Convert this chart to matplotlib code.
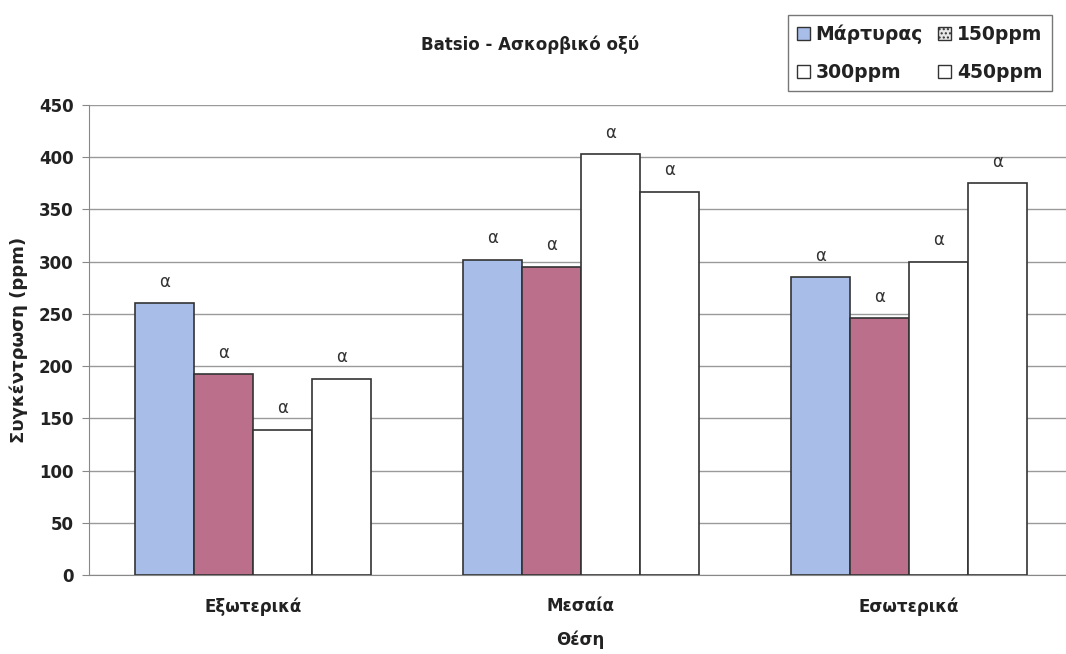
import matplotlib
matplotlib.use("Agg")
import matplotlib.pyplot as plt
import numpy as np
from matplotlib.patches import Patch

plt.rcParams['font.family'] = ['DejaVu Sans']
plt.rcParams['font.weight'] = 'bold'

categories = ['Εξωτερικά', 'Μεσαία', 'Εσωτερικά']
series_names = ['Μάρτυρας', '150ppm', '300ppm', '450ppm']
control = [260, 302, 285]
ppm150 = [192, 295, 246]
ppm300 = [139, 403, 300]
ppm450 = [188, 367, 375]
letters = [['α', 'α', 'α'], ['α', 'α', 'α'], ['α', 'α', 'α'], ['α', 'α', 'α']]
yticks = [0, 50, 100, 150, 200, 250, 300, 350, 400, 450]

series = [control, ppm150, ppm300, ppm450]
colors = ['#a9bde9', '#bb6f8a', '#ffffff', '#ffffff']
text_col = '#222222'

fig = plt.figure(figsize=(10.66, 6.54), dpi=100)
ax = fig.add_axes([89 / 1066, 1 - 575 / 654, 1 - 89 / 1066, (575 - 105) / 654])

x = np.arange(len(categories))
w = 0.18
for i, (vals, col) in enumerate(zip(series, colors)):
    pos = x + (i - 1.5) * w
    ax.bar(pos, vals, width=w, color=col, edgecolor='#333333', linewidth=1.2, zorder=3)
    for p, v, t in zip(pos, vals, letters[i]):
        ax.text(p, v + 12, t, ha='center', va='bottom', fontsize=12,
                fontweight='normal', color='#333333', zorder=4)

ax.set_xlim(-0.5, 2.479)
ax.set_ylim(0, 450)
ax.set_yticks(yticks)
ax.set_yticklabels([str(t) for t in yticks], fontsize=12, fontweight='bold', color=text_col)
ax.yaxis.grid(True, color='#9a9a9a', linewidth=1.0, zorder=0)
ax.set_xticks(x)
ax.set_xticklabels(categories, fontsize=12, fontweight='bold', color=text_col)
ax.tick_params(axis='x', length=0, pad=16)
ax.tick_params(axis='y', length=5, color='#888888', pad=6)
for s in ['top', 'right']:
    ax.spines[s].set_visible(False)
ax.spines['left'].set_color('#888888')
ax.spines['bottom'].set_color('#888888')

ax.set_ylabel('Συγκέντρωση (ppm)', fontsize=13, fontweight='bold', color=text_col, labelpad=8)
fig.text(580 / 1066, 1 - 640 / 654, 'Θέση', ha='center', va='center',
         fontsize=12, fontweight='bold', color=text_col)

fig.text(530 / 1066, 1 - 45 / 654, 'Batsio - Ασκορβικό οξύ', ha='center', va='center',
         fontsize=12, fontweight='bold', color=text_col)

handles = [Patch(facecolor=c, edgecolor='#333333', linewidth=1.0) for c in colors]
handles[1] = Patch(facecolor='#e8e8e8', edgecolor='#333333', hatch='....', linewidth=1.0)
# fill the two-column legend row by row
order = [0, 2, 1, 3]
leg = fig.legend([handles[k] for k in order], [series_names[k] for k in order],
                 ncol=2, loc='upper right',
                 bbox_to_anchor=(1061 / 1066, 1 - 6 / 654),
                 prop={'size': 13.5, 'weight': 'bold'}, frameon=True, fancybox=False,
                 handlelength=0.7, handleheight=0.7, handletextpad=0.3,
                 columnspacing=0.8, labelspacing=1.0, borderpad=0.5,
                 labelcolor=text_col)
leg.get_frame().set_edgecolor('#555555')
leg.get_frame().set_linewidth(1.0)

fig.savefig('out.png', dpi=100)
